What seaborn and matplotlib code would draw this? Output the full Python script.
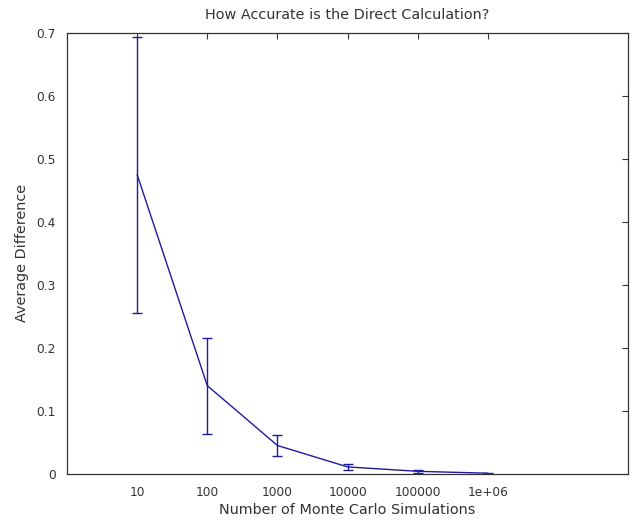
import numpy as np
import pandas as pd
import matplotlib
matplotlib.use("Agg")
import matplotlib.pyplot as plt
import seaborn as sns

# values
sim_labels = ["10", "100", "1000", "10000", "100000", "1e+06"]
avg_diff = [0.475, 0.140, 0.045, 0.011, 0.004, 0.001]
err = [0.219, 0.076, 0.017, 0.005, 0.002, 0.0008]

sns.set_style("white")
plt.rcParams['font.family'] = ['DejaVu Sans']

df = pd.DataFrame({"pos": np.arange(1, len(sim_labels) + 1),
                   "diff": avg_diff, "err": err})

line_col = "#1c1c9c"
txt_col = "#333333"

fig = plt.figure(figsize=(6.32, 5.23), dpi=100)
ax = fig.add_axes([0.106, 0.094, 0.888, 0.843])

sns.lineplot(data=df, x="pos", y="diff", color=line_col, linewidth=1.0, ax=ax)
ax.errorbar(df["pos"], df["diff"], yerr=df["err"], fmt="none",
            ecolor=line_col, elinewidth=1.0, capsize=3.5, capthick=1.0)

ax.set_xlim(0, 8)
ax.set_ylim(0, 0.7)
ax.set_xticks(df["pos"])
ax.set_xticklabels(sim_labels)
ax.set_yticks(np.arange(0, 0.71, 0.1))
ax.set_yticklabels(["0", "0.1", "0.2", "0.3", "0.4", "0.5", "0.6", "0.7"])

ax.tick_params(direction="in", top=True, right=True, length=4, width=0.8,
               labelsize=8.8, colors=txt_col)
ax.tick_params(axis="y", pad=8)
ax.tick_params(axis="x", pad=8.5)
for s in ax.spines.values():
    s.set_color("#333333")
    s.set_linewidth(0.9)

ax.set_title("How Accurate is the Direct Calculation?", fontsize=10.4,
             pad=10, color=txt_col)
ax.set_xlabel("Number of Monte Carlo Simulations", fontsize=10.4,
              labelpad=3, color=txt_col)
ax.set_ylabel("Average Difference", fontsize=10.4, labelpad=5, color=txt_col)

fig.savefig("out.png", dpi=100)
